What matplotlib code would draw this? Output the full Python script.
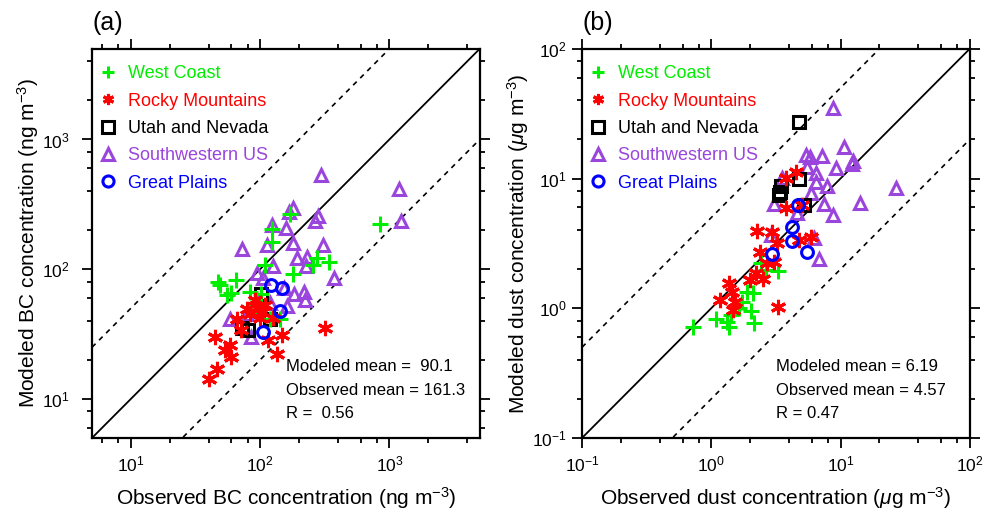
import numpy as np
import matplotlib
matplotlib.use("Agg")
import matplotlib.pyplot as plt
from matplotlib.ticker import LogLocator, NullFormatter

plt.rcParams['font.family'] = ['Liberation Sans', 'DejaVu Sans']
plt.rcParams['mathtext.fontset'] = 'custom'
plt.rcParams['mathtext.rm'] = 'Liberation Sans'
plt.rcParams['mathtext.it'] = 'Liberation Sans:italic'
plt.rcParams['axes.unicode_minus'] = False

# ---------------------------------------------------------------------------
# Data: (observed, modeled) per region
# ---------------------------------------------------------------------------
regions = ['West Coast', 'Rocky Mountains', 'Utah and Nevada',
           'Southwestern US', 'Great Plains']

# panel (a) BC, ng m-3
bc_wc_obs = [170, 123, 123, 109, 179, 275, 340, 256, 49, 65, 60, 55, 83, 101, 94, 119, 142, 843, 47]
bc_wc_mod = [265, 203, 161, 107, 91, 123, 113, 107, 75, 82, 66, 63, 67, 64, 52, 41, 41, 222, 79]
bc_rm_obs = [96, 91, 103, 83, 66, 71, 45, 58, 53, 60, 46, 40, 115, 147, 135, 316, 125, 109, 79, 99]
bc_rm_mod = [51, 58, 47, 45, 41, 34, 30, 26, 24, 21, 17, 14.3, 28.6, 31, 22, 35.4, 42, 53, 49, 42]
bc_un_obs = [101, 119, 80, 73]
bc_un_mod = [64, 41, 34, 35]
bc_sw_obs = [294, 179, 167, 279, 265, 123, 158, 113, 73, 179, 305, 192, 230, 226, 125, 94,
             372, 105, 152, 182, 218, 222, 161, 119, 79, 58, 85, 94, 1183, 1225]
bc_sw_mod = [531, 294, 274, 256, 234, 218, 206, 153, 144, 158, 153, 123, 125, 105, 105, 94,
             85, 86, 72, 64, 67, 58, 52, 55, 45, 41, 30, 58, 413, 234]
bc_gp_obs = [121, 147, 142, 105]
bc_gp_mod = [76, 72, 48, 33]

# panel (b) dust, ug m-3
du_wc_obs = [2.42, 2.64, 3.27, 1.88, 2.10, 1.72, 1.63, 2.02, 1.42, 1.09, 1.32, 1.37, 2.13, 0.72]
du_wc_mod = [2.23, 1.97, 1.94, 1.33, 1.31, 1.12, 1.0, 0.95, 0.89, 0.83, 0.78, 0.72, 0.77, 0.72]
du_rm_obs = [4.5, 3.8, 3.8, 2.25, 2.94, 3.2, 4.75, 5.9, 2.4, 2.7, 3.05, 2.2, 2.0, 2.5,
             1.37, 1.44, 1.16, 1.52, 1.47, 3.27, 5.0]
du_rm_mod = [11.3, 10.1, 5.9, 3.95, 3.9, 3.2, 3.37, 3.55, 2.7, 2.24, 2.28, 1.87, 1.65, 1.68,
             1.57, 1.33, 1.16, 1.12, 0.97, 1.02, 6.3]
du_un_obs = [4.75, 4.75, 3.45, 3.39, 3.33, 5.2]
du_un_mod = [27.5, 9.96, 8.8, 7.9, 7.4, 6.3]
du_sw_obs = [8.7, 10.6, 12.6, 12.2, 5.4, 5.8, 7.2, 9.2, 6.5, 5.5, 7.8, 6.5, 5.9, 26.7,
             3.5, 3.05, 14.1, 7.4, 8.7, 4.6, 2.9, 6.2, 6.8]
du_sw_mod = [35, 17.6, 13.7, 13.0, 15.3, 14.7, 15.0, 12.1, 11.1, 12.3, 8.8, 9.4, 7.8, 8.5,
             10.1, 6.4, 6.5, 6.4, 5.2, 5.4, 3.7, 3.5, 2.4]
du_gp_obs = [4.67, 4.2, 4.2, 5.5, 2.94]
du_gp_mod = [6.2, 4.25, 3.3, 2.72, 2.62]

bc_stats = ['Modeled mean =  90.1', 'Observed mean = 161.3', 'R =  0.56']
du_stats = ['Modeled mean = 6.19', 'Observed mean = 4.57', 'R = 0.47']

colors = ['#00ee00', '#ff0000', '#000000', '#9a45dc', '#0000ff']
markers = ['+', (6, 2, 0), 's', '^', 'o']
sizes = [11, 11, 8, 9, 8.5]
draw_order = [3, 2, 0, 1, 4]


def panel(ax, obs, mod, lim, stats, xlabel, ylabel, tag, ypad):
    x = np.array(lim)
    ax.plot(x, x, color='black', lw=1.3, zorder=1)
    ax.plot(x, x * 5, color='black', lw=1.2, ls=(0, (3, 3)), zorder=1)
    ax.plot(x, x / 5, color='black', lw=1.2, ls=(0, (3, 3)), zorder=1)

    handles = [None] * 5
    for i in draw_order:
        h, = ax.plot(obs[i], mod[i], ls='none', marker=markers[i], ms=sizes[i],
                     mfc='none', mec=colors[i], mew=2.2, color=colors[i],
                     label=regions[i], zorder=3)
        handles[i] = h

    ax.set_xscale('log')
    ax.set_yscale('log')
    ax.set_xlim(lim)
    ax.set_ylim(lim)
    for axis in (ax.xaxis, ax.yaxis):
        axis.set_major_locator(LogLocator(base=10, subs=(1.0,)))
        axis.set_minor_locator(LogLocator(base=10, subs=(2, 4, 6, 8)))
        axis.set_minor_formatter(NullFormatter())
    ax.tick_params(which='both', direction='out', top=True, right=True,
                   width=1.3, labelsize=12.5)
    ax.tick_params(which='major', length=7)
    ax.tick_params(which='minor', length=3.5)
    ax.tick_params(axis='x', pad=5)
    ax.tick_params(axis='y', pad=ypad)
    for s in ax.spines.values():
        s.set_linewidth(1.6)

    ax.set_xlabel(xlabel, fontsize=15)
    ax.set_ylabel(ylabel, fontsize=15)
    ax.xaxis.set_label_coords(0.5, -0.12)
    ax.yaxis.set_label_coords(-0.132, 0.5)

    leg = ax.legend(handles=handles, loc='upper left', bbox_to_anchor=(-0.01, 0.99),
                    frameon=False, fontsize=13, handlelength=0.8, handletextpad=0.7,
                    labelspacing=0.57, borderaxespad=0.3)
    for t, c in zip(leg.get_texts(), colors):
        t.set_color(c)
    for lh in leg.legend_handles:
        lh.set_markersize(8)

    for k, s in enumerate(stats):
        ax.text(0.5, 0.183 - 0.06 * k, s, transform=ax.transAxes,
                fontsize=12, va='center', ha='left')
    ax.text(0.0, 1.035, tag, transform=ax.transAxes, fontsize=18,
            va='bottom', ha='left')


fig = plt.figure(figsize=(9.84, 5.14), dpi=100)
ax1 = fig.add_axes([0.0935, 0.148, 0.394, 0.757])
ax2 = fig.add_axes([0.5915, 0.148, 0.394, 0.757])

panel(ax1,
      [bc_wc_obs, bc_rm_obs, bc_un_obs, bc_sw_obs, bc_gp_obs],
      [bc_wc_mod, bc_rm_mod, bc_un_mod, bc_sw_mod, bc_gp_mod],
      (5, 5000), bc_stats,
      'Observed BC concentration (ng m$^{-3}$)',
      'Modeled BC concentration (ng m$^{-3}$)', '(a)', 9)
panel(ax2,
      [du_wc_obs, du_rm_obs, du_un_obs, du_sw_obs, du_gp_obs],
      [du_wc_mod, du_rm_mod, du_un_mod, du_sw_mod, du_gp_mod],
      (0.1, 100), du_stats,
      r'Observed dust concentration ($\mu$g m$^{-3}$)',
      r'Modeled dust concentration ($\mu$g m$^{-3}$)', '(b)', 4)

fig.savefig('out.png', dpi=100)
